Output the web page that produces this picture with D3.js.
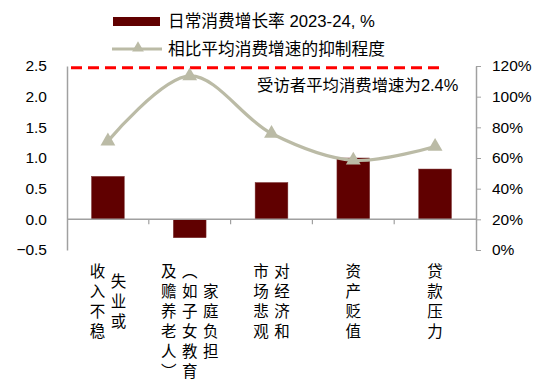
<!DOCTYPE html>
<html><head><meta charset="utf-8">
<script src="https://cdnjs.cloudflare.com/ajax/libs/d3/7.8.5/d3.min.js"></script>
<style>
html,body{margin:0;padding:0;background:#fff;}
svg{display:block;font-family:"Liberation Sans","Noto Sans CJK SC",sans-serif;}
.vlab{writing-mode:vertical-rl;text-orientation:upright;}
</style></head>
<body>
<svg id="chart" width="550" height="388"></svg>
<script>
// ---- data ----
const categories = ["失业或收入不稳", "家庭负担（如子女教育及赡养老人）", "对经济和市场悲观", "资产贬值", "贷款压力"];
// label columns, rightmost column first (vertical text, read right to left)
const categoryColumns = [
  ["失业或", "收入不稳"],
  ["家庭负担", "（如子女教育", "及赡养老人）"],
  ["对经济和", "市场悲观"],
  ["资产贬值"],
  ["贷款压力"]
];
const growthValues = [0.7, -0.3, 0.6, 1.0, 0.82];          // 日常消费增长率 2023-24, %
const suppressionValues = [71, 113.5, 76, 58.5, 67.5];     // 相比平均消费增速的抑制程度, %
const leftTicks = [-0.5, 0, 0.5, 1.0, 1.5, 2.0, 2.5];
const rightTicks = [0, 20, 40, 60, 80, 100, 120];
const avgGrowthLine = 2.47;
const legendLabels = ["日常消费增长率 2023-24, %", "相比平均消费增速的抑制程度"];
const annotation = "受访者平均消费增速为2.4%";

// ---- layout ----
const svg = d3.select("#chart");
const X0 = 67, X1 = 476, YT = 66, YB = 250;
const barColor = "#600000", lineColor = "#BBBBA6", axisColor = "#A0A0A0";

const x = d3.scaleBand().domain(categories).range([X0, X1]).padding(0);
const yL = d3.scaleLinear().domain([-0.5, 2.5]).range([YB, YT]);
const yR = d3.scaleLinear().domain([0, 120]).range([YB, YT]);
const bw = x.bandwidth();

// bars
svg.append("g").selectAll("rect").data(categories).join("rect")
  .attr("x", d => x(d) + bw * 0.3)
  .attr("width", bw * 0.4)
  .attr("y", (d, i) => yL(Math.max(0, growthValues[i])))
  .attr("height", (d, i) => Math.abs(yL(growthValues[i]) - yL(0)))
  .attr("fill", barColor).attr("stroke", "#7a3030").attr("stroke-width", 0.5);

// left axis
const gL = svg.append("g").attr("transform", `translate(${X0},0)`)
  .call(d3.axisLeft(yL).tickValues(leftTicks).tickFormat(d3.format(".1f")).tickSize(0).tickPadding(20));
gL.select(".domain").attr("stroke", axisColor).attr("stroke-width", 1.5);
gL.selectAll("text").attr("font-size", 15.5).attr("fill", "#000").attr("font-family", "Liberation Sans");

// right axis
const gR = svg.append("g").attr("transform", `translate(${X1},0)`)
  .call(d3.axisRight(yR).tickValues(rightTicks).tickFormat(d => d + "%").tickSize(5).tickSizeOuter(0).tickPadding(11));
gR.select(".domain").attr("stroke", axisColor).attr("stroke-width", 1.5);
gR.selectAll(".tick line").attr("stroke", axisColor);
gR.selectAll("text").attr("font-size", 15.5).attr("fill", "#000").attr("font-family", "Liberation Sans");

// x axis at zero
const gX = svg.append("g").attr("transform", `translate(0,${yL(0)})`);
gX.append("line").attr("x1", X0).attr("x2", X1).attr("stroke", axisColor).attr("stroke-width", 1.5);
gX.selectAll("line.tk").data(categories.slice(1)).join("line").attr("class", "tk")
  .attr("x1", d => x(d)).attr("x2", d => x(d)).attr("y1", 0).attr("y2", 5)
  .attr("stroke", axisColor).attr("stroke-width", 1.2);

// reference dashed line
svg.append("line").attr("x1", X0 + 4).attr("x2", 440)
  .attr("y1", yL(avgGrowthLine)).attr("y2", yL(avgGrowthLine))
  .attr("stroke", "#FF0000").attr("stroke-width", 3).attr("stroke-dasharray", "11,6");

svg.append("text").attr("x", 257).attr("y", 85).attr("dominant-baseline", "central")
  .attr("font-size", 16.4).attr("fill", "#000").text(annotation);

// smoothed line
const pts = categories.map((c, i) => [x(c) + bw / 2, yR(suppressionValues[i])]);
svg.append("path").attr("d", d3.line().curve(d3.curveCatmullRom.alpha(0.5))(pts))
  .attr("fill", "none").attr("stroke", lineColor).attr("stroke-width", 3.2);
const tri = d3.symbol().type(d3.symbolTriangle).size(95);
svg.append("g").selectAll("path").data(pts).join("path")
  .attr("transform", d => `translate(${d[0]},${d[1]})`)
  .attr("d", tri()).attr("fill", lineColor);

// x labels (vertical text, one text element per column)
const pitch = 20, colGap = 21, topY = 263, fs = 15.5;
const gLab = svg.append("g").attr("font-family", "Noto Sans CJK SC").attr("font-size", fs);
categories.forEach((c, ci) => {
  const cols = categoryColumns[ci];
  const n = cols.length;
  const maxLen = d3.max(cols, s => s.length);
  const cx = x(c) + bw / 2;
  cols.forEach((col, j) => {
    const colX = cx + ((n - 1) / 2 - j) * colGap;
    const off = (maxLen - col.length) / 2 * pitch;
    gLab.append("text").attr("class", "vlab")
      .attr("x", colX).attr("y", topY + off)
      .attr("letter-spacing", pitch - fs)
      .attr("fill", "#000").text(col);
  });
});

// legend
const lg = svg.append("g");
lg.append("rect").attr("x", 113).attr("y", 17).attr("width", 47).attr("height", 9).attr("fill", barColor);
lg.append("text").attr("x", 168).attr("y", 21.5).attr("dominant-baseline", "central")
  .attr("font-size", 16.7).text(legendLabels[0]);
lg.append("line").attr("x1", 112).attr("x2", 162).attr("y1", 49).attr("y2", 49)
  .attr("stroke", lineColor).attr("stroke-width", 3.2);
lg.append("path").attr("transform", "translate(138,48)").attr("d", d3.symbol().type(d3.symbolTriangle).size(60)()).attr("fill", lineColor);
lg.append("text").attr("x", 168).attr("y", 49).attr("dominant-baseline", "central")
  .attr("font-size", 16.7).text(legendLabels[1]);
</script>
</body></html>
